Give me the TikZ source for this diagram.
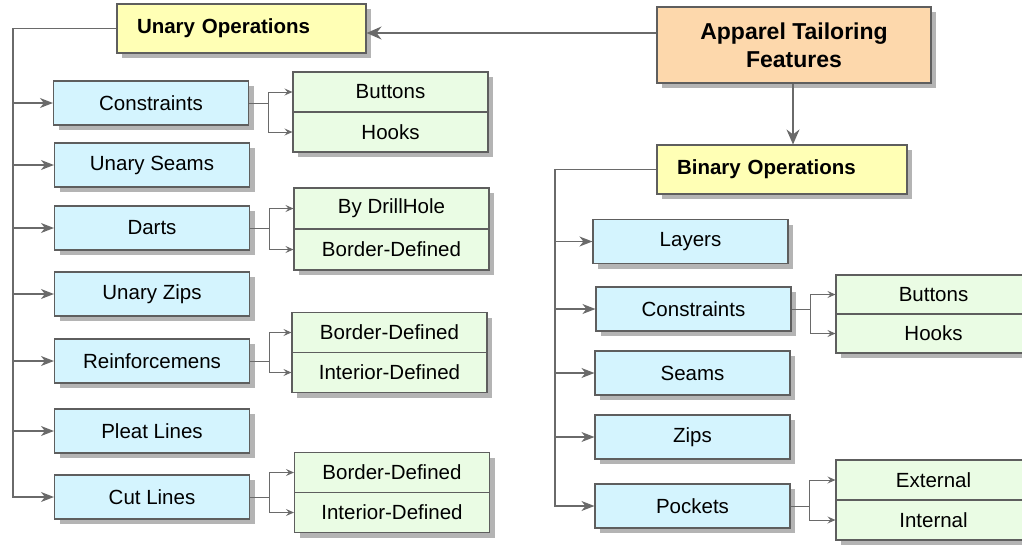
\documentclass[tikz,border=0pt]{standalone}
\usepackage{fontspec}
\setmainfont{Liberation Sans}
\usetikzlibrary{shadows,arrows.meta}

\definecolor{boxblue}{HTML}{D4F4FE}
\definecolor{boxgreen}{HTML}{EAFCE4}
\definecolor{boxyellow}{HTML}{FFFFB5}
\definecolor{boxpeach}{HTML}{FDD8AC}
\definecolor{boxline}{HTML}{5E5E5E}
\definecolor{shadowgray}{HTML}{B4B4B4}
\definecolor{wire}{HTML}{6A6A6A}

\begin{document}
\begin{tikzpicture}[x=1pt,y=-1pt,
  base/.style={draw=boxline, line width=1.1pt, inner sep=0pt,
    drop shadow={shadow xshift=5pt, shadow yshift=-5pt, fill=shadowgray, opacity=1}},
  txt/.style={font=\fontsize{20.5}{24}\selectfont},
  leaf/.style={base, txt, fill=boxblue, minimum width=195pt, minimum height=44pt},
  sub/.style={base, txt, fill=boxgreen, minimum width=195pt, minimum height=40pt},
  opbox/.style={base, fill=boxyellow, minimum height=49pt, inner xsep=20pt,
    align=left, font=\bfseries\fontsize{20.5}{24}\selectfont},
  rootbox/.style={base, fill=boxpeach, minimum width=274pt, minimum height=76pt,
    align=center, font=\bfseries\fontsize{23}{28}\selectfont},
  conn/.style={draw=wire, line width=1.3pt},
  fork/.style={draw=wire, line width=1pt},
  bigtip/.style={-{Stealth[length=13pt, width=10pt, inset=4pt]}},
  smalltip/.style={-{Stealth[length=8pt, width=7pt, inset=3pt]}},
  roottip/.style={-{Stealth[length=15pt, width=13pt, inset=5pt]}}
]
\useasboundingbox (0,0) rectangle (1022,544);
\clip (0,0) rectangle (1022,544);

% top level
\node[rootbox] (root) at (794,45) {Apparel Tailoring\\Features};
\node[opbox, text width=209pt] (un) at (241.5,28.5) {Unary Operations};
\node[opbox, text width=210pt] (bin) at (782,169.5) {Binary Operations};

% unary branch
\node[leaf] (uc)  at (151,103) {Constraints};
\node[leaf] (us)  at (152,165) {Unary Seams};
\node[leaf] (ud)  at (152,228) {Darts};
\node[leaf] (uz)  at (152,294) {Unary Zips};
\node[leaf] (ur)  at (152,361) {Reinforcemens};
\node[leaf] (up)  at (152,431) {Pleat Lines};
\node[leaf] (ucl) at (152,497) {Cut Lines};

\node[sub] (ucb)  at (390.5,92)    {Buttons};
\node[sub] (uch)  at (390.5,132)   {Hooks};
\node[sub, minimum height=41pt] (udd) at (391.5,208.5) {By DrillHole};
\node[sub, minimum height=41pt] (udb) at (391.5,249.5) {Border-Defined};
\node[sub] (urb)  at (389.5,332.5) {Border-Defined};
\node[sub] (uri)  at (389.5,372.5) {Interior-Defined};
\node[sub] (uclb) at (392,472.5)   {Border-Defined};
\node[sub] (ucli) at (392,512.5)   {Interior-Defined};

% binary branch
\node[leaf] (bl) at (690.5,241.5) {Layers};
\node[leaf] (bc) at (693.5,309)   {Constraints};
\node[leaf] (bs) at (692.5,373)   {Seams};
\node[leaf] (bz) at (692.5,437)   {Zips};
\node[leaf] (bp) at (692.5,506)   {Pockets};

\node[sub, minimum height=39pt] (bcb) at (933.5,294.5) {Buttons};
\node[sub, minimum height=39pt] (bch) at (933.5,333.5) {Hooks};
\node[sub] (bpe) at (933.5,480) {External};
\node[sub] (bpi) at (933.5,520) {Internal};

% trunk positions
\coordinate (lt) at (13,0);
\coordinate (rt) at (555,0);

% root links
\draw[conn, roottip] ([yshift=12pt]root.west) -- ([yshift=12pt]root.west -| un.east);
\draw[conn, roottip] ([xshift=-1pt]root.south) -- ([xshift=-1pt]root.south |- bin.north);

% unary trunk
\draw[conn, bigtip] (un.west) -| (lt |- ucl.west) -- (ucl.west);
\foreach \n in {uc,us,ud,uz,ur,up}
  \draw[conn, bigtip] (lt |- \n.west) -- (\n.west);

% binary trunk
\draw[conn, bigtip] (bin.west) -| (rt |- bp.west) -- (bp.west);
\foreach \n in {bl,bc,bs,bz}
  \draw[conn, bigtip] (rt |- \n.west) -- (\n.west);

% sub-item forks
\foreach \a/\b/\c in {uc/ucb/uch, ud/udd/udb, ur/urb/uri, ucl/uclb/ucli, bc/bcb/bch, bp/bpe/bpi} {
  \draw[fork] (\a.east) -- ++(19,0);
  \draw[fork, smalltip] (\a.east) ++(19,0) |- (\b.west);
  \draw[fork, smalltip] (\a.east) ++(19,0) |- (\c.west);
}
\end{tikzpicture}
\end{document}
